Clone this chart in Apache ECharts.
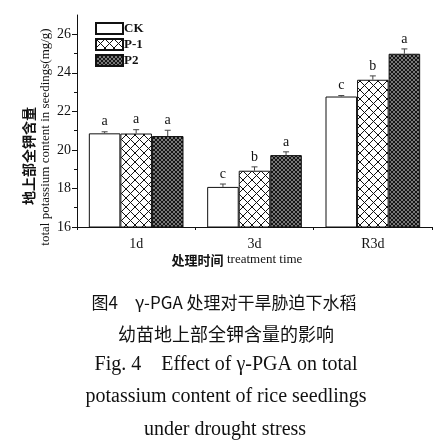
<!DOCTYPE html>
<html><head><meta charset="utf-8">
<script src="https://cdn.jsdelivr.net/npm/echarts@6/dist/echarts.min.js"></script>
<style>html,body{margin:0;padding:0;background:#fff}#c{width:440px;height:445px}</style>
</head><body><div id="c"></div>
<script>
const categories = ['1d', '3d', 'R3d'];
const seriesNames = ['CK', 'P-1', 'P2'];
const ckValues = [20.86, 18.08, 22.77];
const p1Values = [20.85, 18.92, 23.64];
const p2Values = [20.72, 19.73, 24.99];
const ckErrors = [0.08, 0.15, 0.05];
const p1Errors = [0.2, 0.2, 0.2];
const p2Errors = [0.3, 0.17, 0.25];
const ckLetters = ['a', 'c', 'c'];
const p1Letters = ['a', 'b', 'b'];
const p2Letters = ['a', 'a', 'a'];
const yTickLabels = [16, 18, 20, 22, 24, 26];

const values = [ckValues, p1Values, p2Values];
const errors = [ckErrors, p1Errors, p2Errors];
const letters = [ckLetters, p1Letters, p2Letters];

function makePattern(kind) {
  const c = document.createElement('canvas');
  const ctx = c.getContext('2d');
  if (kind === 'cross') {
    const n = 9; c.width = n; c.height = n;
    ctx.fillStyle = '#fff'; ctx.fillRect(0, 0, n, n);
    ctx.strokeStyle = '#111'; ctx.lineWidth = 1;
    ctx.beginPath();
    ctx.moveTo(0, 0); ctx.lineTo(n, n);
    ctx.moveTo(n, 0); ctx.lineTo(0, n);
    ctx.stroke();
  } else {
    const n = 4; c.width = n; c.height = n;
    ctx.fillStyle = '#777777'; ctx.fillRect(0, 0, n, n);
    ctx.fillStyle = '#151515';
    for (let k = 0; k < n; k++) {
      ctx.fillRect(k, k, 1, 1);
      ctx.fillRect(n - 1 - k, k, 1, 1);
    }
  }
  return { image: c, repeat: 'repeat' };
}
const fills = ['#ffffff', makePattern('cross'), makePattern('dense')];

const errData = [];
for (let s = 0; s < 3; s++) {
  for (let i = 0; i < categories.length; i++) {
    errData.push([i, values[s][i], errors[s][i], s]);
  }
}

const chart = echarts.init(document.getElementById('c'), null, { renderer: 'canvas' });
const serif = 'Liberation Serif, Times New Roman, serif';

const barSeries = seriesNames.map((name, s) => ({
  name: name,
  type: 'bar',
  xAxisIndex: 0, yAxisIndex: 0,
  data: values[s],
  barGap: '0%',
  barCategoryGap: '20%',
  itemStyle: { color: fills[s], borderColor: '#111', borderWidth: 1 },
  emphasis: { disabled: true }
}));

chart.setOption({
  animation: false,
  backgroundColor: '#fff',
  grid: { left: 77, right: 8, top: 15, bottom: 218 },
  legend: {
    left: 90, top: 17, orient: 'vertical', itemGap: 3,
    itemWidth: 27, itemHeight: 11, icon: 'rect',
    textStyle: { fontFamily: serif, fontSize: 13, fontWeight: 'bold', color: '#111', padding: [0, 0, 0, -4] },
    data: seriesNames
  },
  xAxis: [{
    type: 'category', data: categories, boundaryGap: true,
    axisLine: { lineStyle: { color: '#111', width: 1 } },
    axisTick: { alignWithLabel: true, length: 5, lineStyle: { color: '#111' } },
    axisLabel: { fontFamily: serif, fontSize: 14, color: '#111', margin: 10 }
  }, {
    type: 'category', data: categories, boundaryGap: true, position: 'bottom',
    axisLine: { show: false },
    axisTick: { show: true, length: 3, lineStyle: { color: '#111' } },
    axisLabel: { show: false }
  }],
  yAxis: [{
    type: 'value', min: 16, max: 27, interval: 2,
    axisLine: { show: true, lineStyle: { color: '#111', width: 1 } },
    axisTick: { show: true, length: 5, customValues: yTickLabels, lineStyle: { color: '#111' } },
    minorTick: { show: true, splitNumber: 2, length: 3, lineStyle: { color: '#111' } },
    axisLabel: { fontFamily: serif, fontSize: 14, color: '#111', margin: 6, customValues: yTickLabels },
    splitLine: { show: false }
  }],
  series: barSeries.concat([{
    type: 'custom',
    xAxisIndex: 0, yAxisIndex: 0,
    z: 5,
    data: errData,
    encode: { x: 0, y: 1 },
    renderItem: function (params, api) {
      const cat = api.value(0), v = api.value(1), e = api.value(2), s = api.value(3);
      const band = api.size([1, 0])[0];
      const bw = band * 0.8 / 3;
      const base = api.coord([cat, v]);
      const x = base[0] + (s - 1) * bw;
      const yTop = api.coord([cat, v + e])[1];
      const letter = letters[s][cat];
      return {
        type: 'group',
        children: [
          { type: 'line', shape: { x1: x, y1: base[1], x2: x, y2: yTop }, style: { stroke: '#444', lineWidth: 1 } },
          { type: 'line', shape: { x1: x - 3, y1: yTop, x2: x + 3, y2: yTop }, style: { stroke: '#444', lineWidth: 1 } },
          { type: 'text', style: { text: letter, x: x, y: yTop - 3, align: 'center', verticalAlign: 'bottom', font: '14px ' + serif, fill: '#111' } }
        ]
      };
    }
  }]),
  graphic: [
    { type: 'text', x: 29, y: 156, rotation: Math.PI / 2, style: { text: '地上部全钾含量', font: 'bold 14px "Noto Sans CJK SC"', align: 'center', verticalAlign: 'middle', fill: '#111' } },
    { type: 'text', x: 46, y: 137, rotation: Math.PI / 2, style: { text: 'total potassium content in seedings(mg/g)', font: '13px ' + serif, align: 'center', verticalAlign: 'middle', fill: '#111' } },
    { type: 'text', x: 237, y: 260, style: { text: '{a|处理时间} {b|treatment time}', rich: { a: { font: 'bold 13px "Noto Sans CJK SC"', fill: '#111' }, b: { font: '13px ' + serif, fill: '#111' } }, align: 'center', verticalAlign: 'middle' } },
    { type: 'text', x: 224, y: 303, style: { text: '图4　γ-PGA 处理对干旱胁迫下水稻', font: '17px "Noto Sans CJK SC"', align: 'center', verticalAlign: 'middle', fill: '#111' } },
    { type: 'text', x: 226, y: 334, style: { text: '幼苗地上部全钾含量的影响', font: '18px "Noto Sans CJK SC"', align: 'center', verticalAlign: 'middle', fill: '#111' } },
    { type: 'text', x: 226, y: 365, style: { text: 'Fig. 4    Effect of γ-PGA on total', font: '20px ' + serif, align: 'center', verticalAlign: 'middle', fill: '#111' } },
    { type: 'text', x: 226, y: 397, style: { text: 'potassium content of rice seedlings', font: '20px ' + serif, align: 'center', verticalAlign: 'middle', fill: '#111' } },
    { type: 'text', x: 225, y: 430, style: { text: 'under drought stress', font: '20px ' + serif, align: 'center', verticalAlign: 'middle', fill: '#111' } }
  ]
});
</script>
</body></html>
